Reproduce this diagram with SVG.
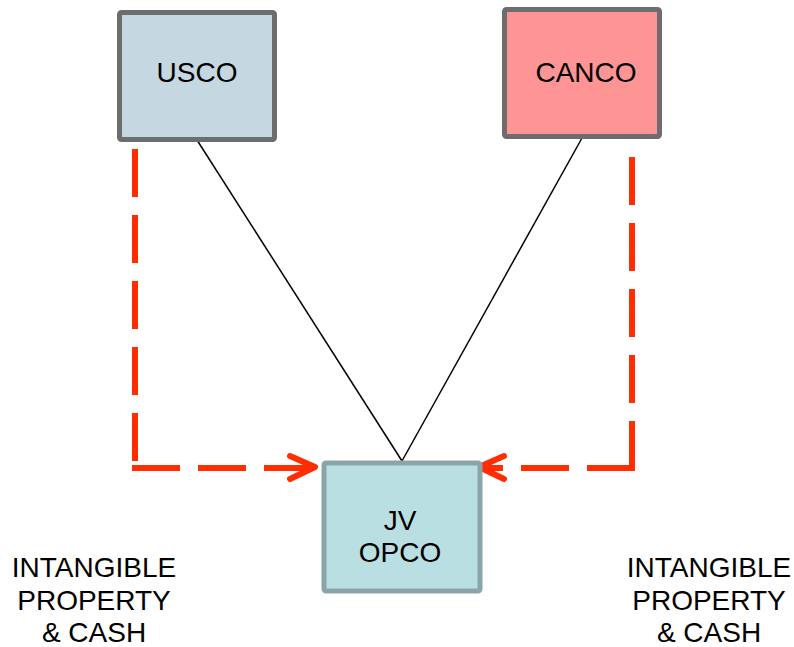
<svg xmlns="http://www.w3.org/2000/svg" width="794" height="647" viewBox="0 0 794 647">
  <style>
    .box { stroke-width: 5; }
    .lbl { font-family: "Liberation Sans", Arial, sans-serif; font-size: 28px; fill: #000; text-anchor: middle; }
    .link { stroke: #000; stroke-width: 1.5; fill: none; }
    .flow { stroke: #ff2d00; stroke-width: 6; fill: none; stroke-dasharray: 48 18; }
    .head { stroke: #ff2d00; stroke-width: 6; fill: none; stroke-linecap: round; stroke-linejoin: round; }
  </style>
  <rect width="794" height="647" fill="#fff"/>

  <!-- ownership lines and contribution flows -->
  <g id="connectors">
    <line class="link" x1="197" y1="140" x2="402" y2="461"/>
    <line class="link" x1="582" y1="138" x2="402" y2="461"/>
    <path class="flow" d="M135,149 V467"/>
    <path class="flow" d="M132,468 H310"/>
    <polyline class="head" points="290,456 315,467 290,479"/>
    <path class="flow" d="M632,157 V471"/>
    <path class="flow" d="M635,468 H484"/>
    <polyline class="head" points="504,456 479,467 504,479"/>
  </g>

  <g id="usco">
    <rect class="box" x="119.5" y="12.5" width="155" height="127" rx="2" fill="#c5d7e0" stroke="#6d6d6d"/>
    <text class="lbl" x="197" y="82">USCO</text>
  </g>

  <g id="canco">
    <rect class="box" x="504.5" y="9.5" width="155" height="127" rx="2" fill="#ff9494" stroke="#6d6d6d"/>
    <text class="lbl" x="586" y="82">CANCO</text>
  </g>

  <g id="jv-opco">
    <rect class="box" x="324" y="463" width="156" height="128" rx="2" fill="#badfe2" stroke="#8aa5a8"/>
    <text class="lbl" x="400" y="530">JV</text>
    <text class="lbl" x="400" y="562">OPCO</text>
  </g>

  <g id="label-left">
    <text class="lbl" x="94" y="577">INTANGIBLE</text>
    <text class="lbl" x="94" y="610">PROPERTY</text>
    <text class="lbl" x="94" y="642">&amp; CASH</text>
  </g>

  <g id="label-right">
    <text class="lbl" x="709" y="577">INTANGIBLE</text>
    <text class="lbl" x="709" y="610">PROPERTY</text>
    <text class="lbl" x="709" y="642">&amp; CASH</text>
  </g>
</svg>
